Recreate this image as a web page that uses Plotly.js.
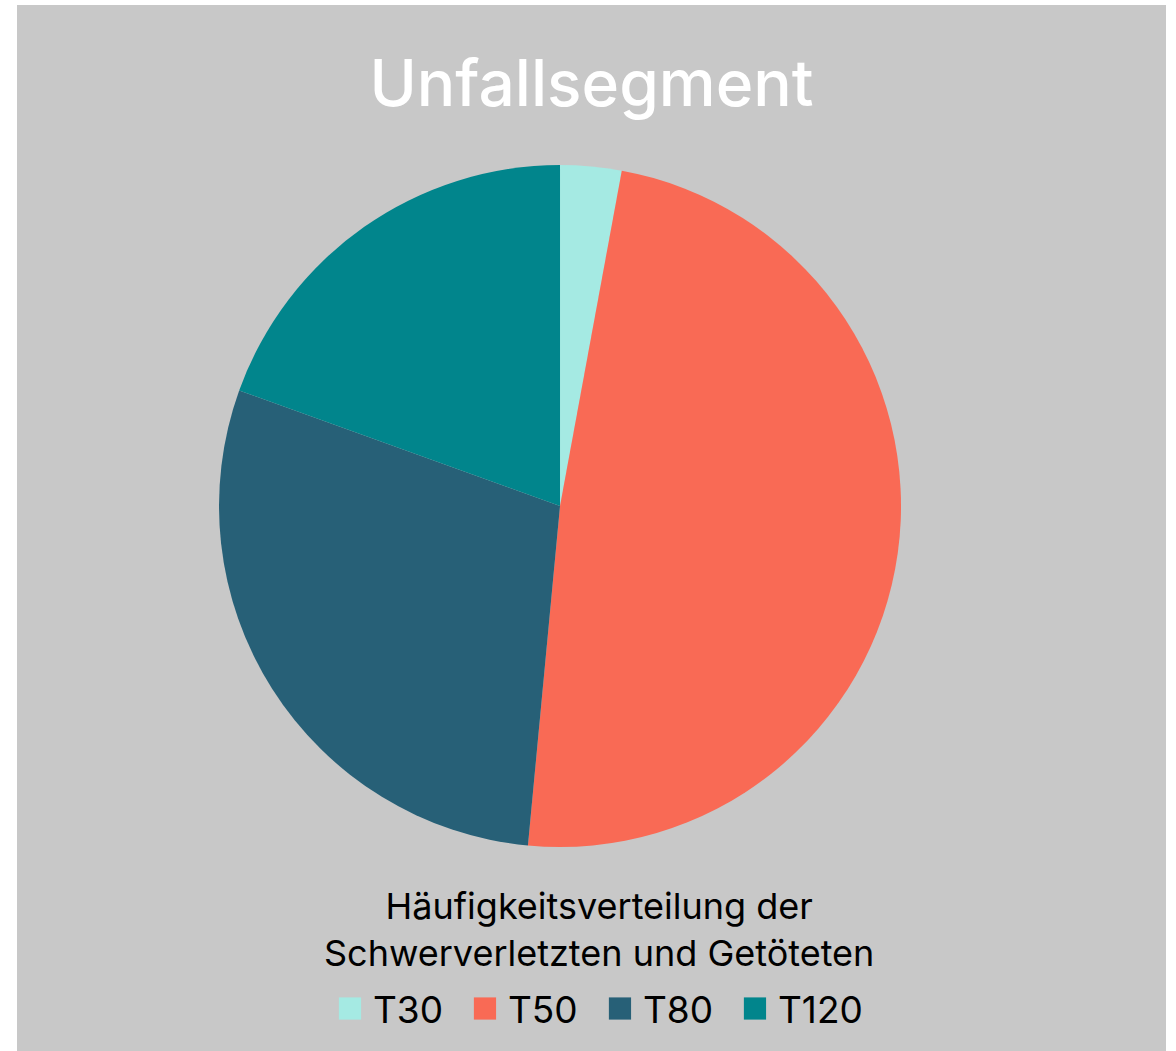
<!DOCTYPE html>
<html>
<head>
<meta charset="utf-8">
<script src="https://cdn.plot.ly/plotly-3.0.1.min.js"></script>
<style>
  html, body { margin: 0; padding: 0; background: #ffffff; }
  #chart { position: absolute; left: 17px; top: 5px; width: 1149px; height: 1046px; }
</style>
</head>
<body>
<div id="chart"></div>
<script>
const categories = ["T30", "T50", "T80", "T120"];
const shares = [2.9, 48.6, 29.0, 19.5];
const sliceColors = ["#A5EAE3", "#F96A55", "#276077", "#01858C"];
const chartTitle = "Unfallsegment";
const legendTitle = "Häufigkeitsverteilung der<br>Schwerverletzten und Getöteten";

const font = "Inter, 'Liberation Sans', sans-serif";

const data = [{
  type: "pie",
  labels: categories,
  values: shares,
  sort: false,
  direction: "clockwise",
  rotation: 0,
  textinfo: "none",
  hoverinfo: "label+percent",
  marker: { colors: sliceColors, line: { width: 0 } },
  domain: { x: [0.1758, 0.7694], y: [0.1950, 0.8470] }
}];

const layout = {
  width: 1149,
  height: 1046,
  paper_bgcolor: "#C8C8C8",
  plot_bgcolor: "#C8C8C8",
  margin: { l: 0, r: 0, t: 0, b: 0 },
  font: { family: font, color: "#000000" },
  title: {
    text: chartTitle,
    font: { family: font, size: 64, color: "#ffffff", weight: 500 },
    x: 0.5, xanchor: "center", xref: "paper",
    y: 0.925, yanchor: "middle", yref: "container"
  },
  annotations: [{
    text: legendTitle,
    xref: "paper", yref: "paper",
    x: 0.5065, y: 0.1157,
    xanchor: "center", yanchor: "middle",
    align: "center",
    showarrow: false,
    font: { family: font, size: 36, color: "#000000" }
  }],
  showlegend: true,
  legend: {
    orientation: "h",
    x: 0.275, xanchor: "left",
    y: 0.0402, yanchor: "middle",
    bgcolor: "rgba(0,0,0,0)",
    font: { family: font, size: 37, color: "#000000", weight: 400 },
    entrywidth: 90, entrywidthmode: "pixels",
    traceorder: "normal"
  }
};

Plotly.newPlot("chart", data, layout, { displayModeBar: false, staticPlot: true }).then(function () {
  document.querySelectorAll("#chart .legendpoints path").forEach(function (p) {
    p.setAttribute("transform", "translate(17,0) scale(1.85)");
  });
});
</script>
</body>
</html>
